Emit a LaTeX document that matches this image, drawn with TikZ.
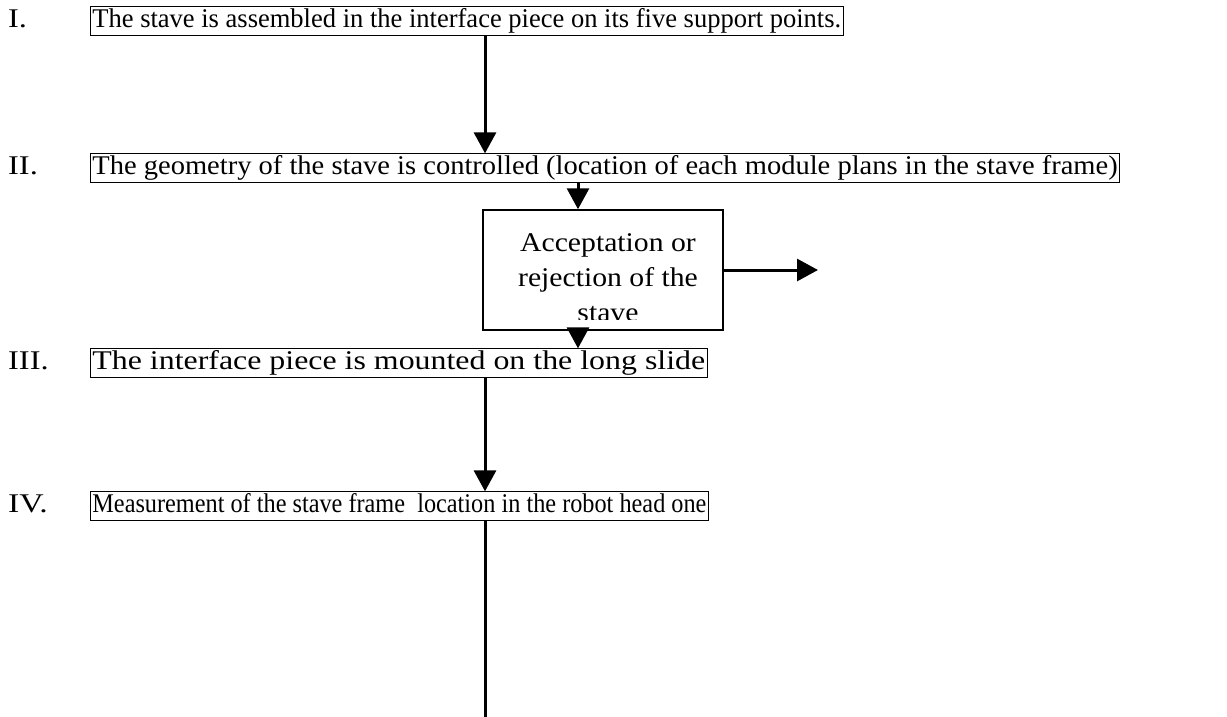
\documentclass[tikz,border=0pt]{standalone}
\usepackage{graphicx}
\usepackage{fontspec}
\setmainfont{Liberation Serif}
\usetikzlibrary{arrows.meta}
\begin{document}
\begin{tikzpicture}[x=1pt,y=-1pt,
  stepbox/.style={draw,line width=.8pt,anchor=west,inner xsep=2pt,inner ysep=.5pt,
    text height=20pt,text depth=7.5pt,font=\fontsize{27}{32}\selectfont},
  steplbl/.style={anchor=west,inner sep=0pt,text height=20pt,text depth=7.5pt,
    font=\fontsize{27}{32}\selectfont},
  flow/.style={line width=3pt,-{Triangle[length=21pt,width=22pt]}}]
\useasboundingbox (0,0) rectangle (1227,717);
% step labels
\node[steplbl] (lI) at (8,21) {\scalebox{1.2}[1]{I.}};
\node[steplbl] (lII) at (8,168) {\scalebox{1.2}[1]{II.}};
\node[steplbl] (lIII) at (8,363) {\scalebox{1.2}[1]{III.}};
\node[steplbl] (lIV) at (8,506) {\scalebox{1.25}[1]{IV.}};
% steps
\node[stepbox] (sI) at (90,21) {\scalebox{.982}[1]{The stave is assembled in the interface piece on its five support points.}};
\node[stepbox] (sII) at (90,168) {\scalebox{1.056}[1]{The geometry of the stave is controlled (location of each module plans in the stave frame)}};
\node[stepbox] (sIII) at (90,363) {\scalebox{1.181}[1]{The interface piece is mounted on the long slide}};
\node[stepbox] (sIV) at (90,506) {\scalebox{.899}[1]{Measurement of the stave frame\ \ location in the robot head one}};
% decision box
\node[draw,line width=1.5pt,minimum width=240pt,minimum height=120pt,inner sep=0pt] (acc) at (603,270) {};
\begin{scope}
\clip (486,213) rectangle (720,319);
\node[align=center,inner sep=0pt,anchor=north,font=\fontsize{27}{35}\selectfont] (acct) at (608,233)
  {\scalebox{1.1}[1]{Acceptation or}\\\scalebox{1.1}[1]{rejection of the}\\\scalebox{1.1}[1]{stave}};
\end{scope}
% arrows
\coordinate (colA) at (485,0);
\coordinate (colB) at (578,0);
\coordinate (out) at (818,270);
\coordinate (bot) at (485,717);
\draw[flow] (sI.south -| colA) -- (sII.north -| colA);
\draw[flow] (sII.south -| colB) -- (acc.north -| colB);
\draw[flow] (acc.east) -- (out);
\draw[flow] (acc.south -| colB) -- (sIII.north -| colB);
\draw[flow] (sIII.south -| colA) -- (sIV.north -| colA);
\draw[line width=3pt] (sIV.south -| colA) -- (bot);
\end{tikzpicture}
\end{document}
